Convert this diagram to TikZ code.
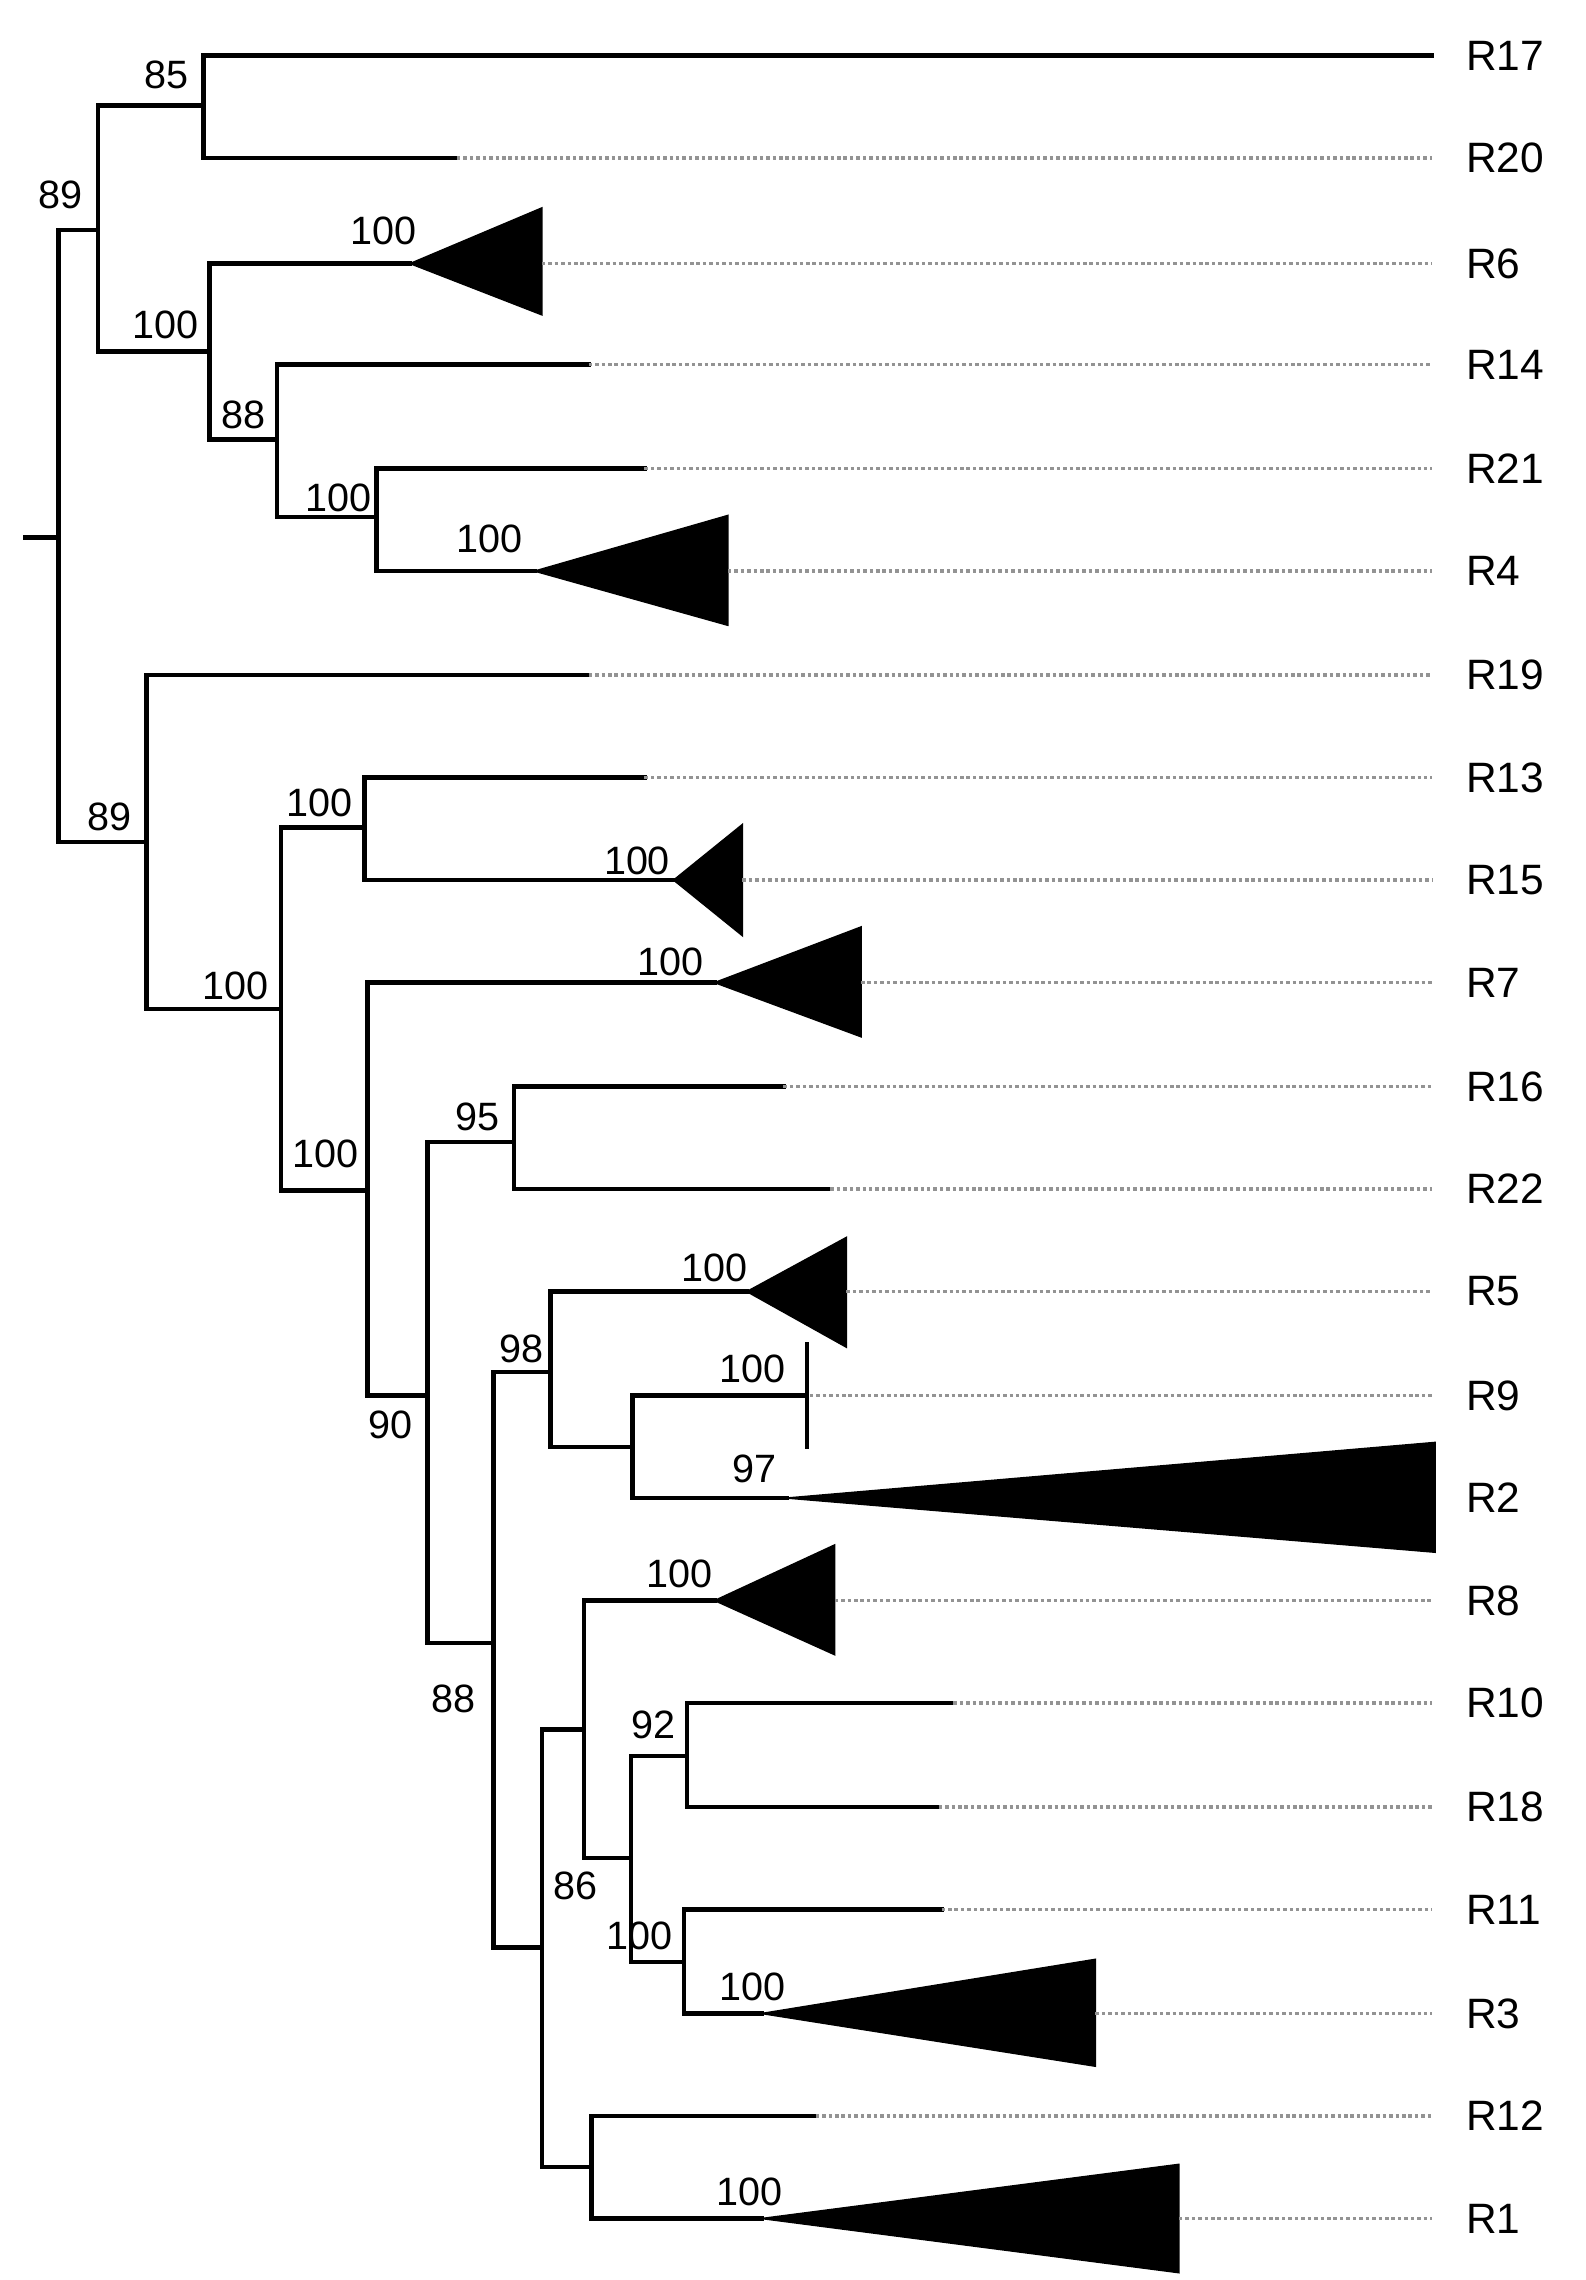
\documentclass[tikz,border=0pt]{standalone}
\usepackage{fontspec}
\setmainfont{Liberation Sans}
\begin{document}
\begin{tikzpicture}[x=1pt,y=-1pt,
  br/.style={line width=3pt,line cap=rect},
  dt/.style={gray!85,line width=2.4pt,dotted},
  tri/.style={fill=black,draw=black,line width=1pt},
  lf/.style={anchor=west,font=\fontsize{29}{30}\selectfont,inner sep=0pt},
  bs/.style={font=\fontsize{27}{28}\selectfont,inner sep=0pt}]
\useasboundingbox (0,0) rectangle (1083,1557);
\newcommand{\dotto}[2]{\draw[dt] (#1,#2) -- (978,#2);}
\foreach \n/\y in {R17/38,R20/108,R6/180,R14/249,R21/320,R4/390,R19/461,R13/531,R15/601,R7/671,R16/742,R22/812,R5/882,R9/953,R2/1023,R8/1093,R10/1163,R18/1234,R11/1304,R3/1375,R12/1445,R1/1515}
  \node[lf] (l\n) at (1001,\y) {\n};
\draw[br] (17,367) -- (40,367);
\draw[br] (40,157) -- (40,575);
\draw[br] (40,157) -- (67,157); \draw[br] (67,72) -- (67,240);
\draw[br] (67,72) -- (139,72); \draw[br] (139,38) -- (139,108);
\draw[br] (139,38) -- (978,38);
\draw[br] (139,108) -- (312,108); \dotto{312}{108}
\draw[br] (67,240) -- (143,240); \draw[br] (143,180) -- (143,300);
\draw[br] (143,180) -- (280,180); \fill[tri] (280,180) -- (370,142) -- (370,215) -- cycle; \dotto{370}{180}
\draw[br] (143,300) -- (189,300); \draw[br] (189,249) -- (189,353);
\draw[br] (189,249) -- (402,249); \dotto{402}{249}
\draw[br] (189,353) -- (257,353); \draw[br] (257,320) -- (257,390);
\draw[br] (257,320) -- (440,320); \dotto{440}{320}
\draw[br] (257,390) -- (365,390); \fill[tri] (365,390) -- (497,352) -- (497,427) -- cycle; \dotto{497}{390}
\draw[br] (40,575) -- (100,575); \draw[br] (100,461) -- (100,689);
\draw[br] (100,461) -- (402,461); \dotto{402}{461}
\draw[br] (100,689) -- (192,689); \draw[br] (192,565) -- (192,813);
\draw[br] (192,565) -- (249,565); \draw[br] (249,531) -- (249,601);
\draw[br] (249,531) -- (440,531); \dotto{440}{531}
\draw[br] (249,601) -- (460,601); \fill[tri] (460,601) -- (507,563) -- (507,639) -- cycle; \dotto{507}{601}
\draw[br] (192,813) -- (251,813); \draw[br] (251,671) -- (251,953);
\draw[br] (251,671) -- (488,671); \fill[tri] (488,671) -- (588,633) -- (588,708) -- cycle; \dotto{588}{671}
\draw[br] (251,953) -- (292,953); \draw[br] (292,780) -- (292,1122);
\draw[br] (292,780) -- (351,780); \draw[br] (351,742) -- (351,812);
\draw[br] (351,742) -- (535,742); \dotto{535}{742}
\draw[br] (351,812) -- (567,812); \dotto{567}{812}
\draw[br] (292,1122) -- (337,1122); \draw[br] (337,937) -- (337,1330);
\draw[br] (337,937) -- (376,937); \draw[br] (376,882) -- (376,988);
\draw[br] (376,882) -- (510,882); \fill[tri] (510,882) -- (578,845) -- (578,920) -- cycle; \dotto{578}{882}
\draw[br] (376,988) -- (432,988); \draw[br] (432,953) -- (432,1023);
\draw[br] (432,953) -- (551,953); \draw[br] (551,918) -- (551,988); \dotto{553}{953}
\draw[br] (432,1023) -- (537,1023); \fill[tri] (537,1023) -- (980,985) -- (980,1060) -- cycle;
\draw[br] (337,1330) -- (370,1330); \draw[br] (370,1181) -- (370,1480);
\draw[br] (370,1181) -- (399,1181); \draw[br] (399,1093) -- (399,1269);
\draw[br] (399,1093) -- (488,1093); \fill[tri] (488,1093) -- (570,1055) -- (570,1130) -- cycle; \dotto{570}{1093}
\draw[br] (399,1269) -- (431,1269); \draw[br] (431,1199) -- (431,1340);
\draw[br] (431,1199) -- (469,1199); \draw[br] (469,1163) -- (469,1234);
\draw[br] (469,1163) -- (651,1163); \dotto{651}{1163}
\draw[br] (469,1234) -- (641,1234); \dotto{641}{1234}
\draw[br] (431,1340) -- (467,1340); \draw[br] (467,1304) -- (467,1375);
\draw[br] (467,1304) -- (643,1304); \dotto{643}{1304}
\draw[br] (467,1375) -- (520,1375); \fill[tri] (520,1375) -- (748,1338) -- (748,1411) -- cycle; \dotto{748}{1375}
\draw[br] (370,1480) -- (404,1480); \draw[br] (404,1445) -- (404,1515);
\draw[br] (404,1445) -- (557,1445); \dotto{557}{1445}
\draw[br] (404,1515) -- (520,1515); \fill[tri] (520,1515) -- (805,1478) -- (805,1552) -- cycle; \dotto{805}{1515}
\foreach \t/\x/\y [count=\i] in {85/114/51,89/41/133,100/262/158,100/113/222,88/166/283,100/231/340,100/334/368,89/75/558,100/218/548,100/161/673,100/435/588,100/458/657,100/222/788,95/326/763,90/267/973,100/488/866,98/356/921,100/514/935,97/515/1003,88/310/1160,100/464/1075,92/446/1178,86/393/1288,100/437/1322,100/514/1357,100/512/1497}
  \node[bs] (b\i) at (\x,\y) {\t};
\end{tikzpicture}
\end{document}
